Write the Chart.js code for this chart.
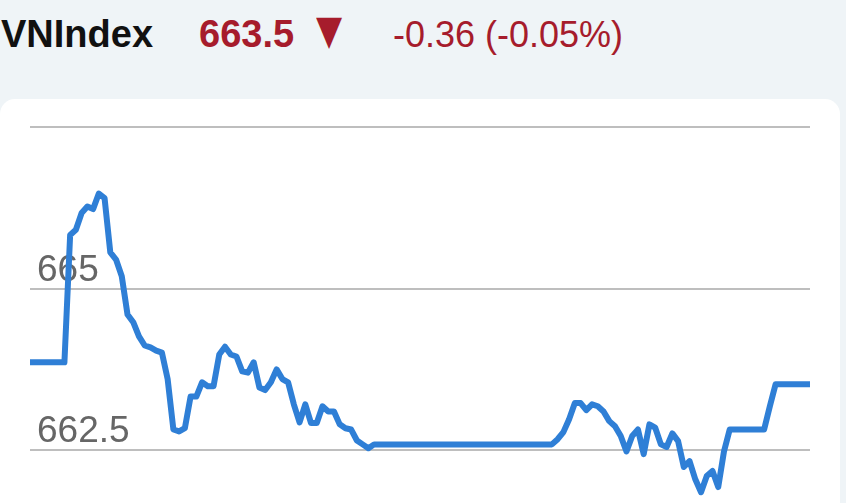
<!DOCTYPE html>
<html>
<head>
<meta charset="utf-8">
<script src="https://cdn.jsdelivr.net/npm/chart.js@4"></script>
<style>
  html, body { margin: 0; padding: 0; }
  body { width: 846px; height: 503px; overflow: hidden; background: #eff4f7; position: relative; font-family: "Liberation Sans", Arial, sans-serif; }
  .hd { position: absolute; white-space: nowrap; line-height: normal; }
  #name { left: 1px; top: 13px; font-size: 38px; font-weight: bold; color: #111; }
  #last { left: 199px; top: 13px; font-size: 38px; font-weight: bold; color: #a61c2c; }
  #arrow { left: 316px; top: 12px; font-size: 34px; color: #a61c2c; font-family: "DejaVu Sans", sans-serif; transform: scaleY(1.2); transform-origin: 50% 80%; }
  #chg { left: 393px; top: 14px; font-size: 36px; color: #a61c2c; }
  #card { position: absolute; left: 0; top: 99px; width: 840px; height: 520px; background: #fff; border-radius: 15px; }
  #wrap { position: absolute; left: 0; top: 0; width: 846px; height: 641px; }
</style>
</head>
<body>
<div id="card"></div>
<div class="hd" id="name">VNIndex</div>
<div class="hd" id="last">663.5</div>
<div class="hd" id="arrow">▼</div>
<div class="hd" id="chg">-0.36 (-0.05%)</div>
<div id="wrap"><canvas id="lineChart"></canvas></div>
<script>
'use strict';
// giá trị chỉ số theo từng điểm
const indexValues = [
    663.86, 663.86, 663.86, 663.86, 663.86, 663.86, 663.86,
    665.83, 665.91, 666.17, 666.27, 666.23, 666.47, 666.40, 665.56, 665.45, 665.19,
    664.60, 664.48, 664.26, 664.12, 664.09, 664.04, 664.01, 663.60, 662.82, 662.79,
    662.84, 663.33, 663.33, 663.55, 663.49, 663.49, 663.98, 664.10, 663.98, 663.95,
    663.72, 663.70, 663.86, 663.47, 663.43, 663.55, 663.75, 663.60, 663.55, 663.21,
    662.93, 663.21, 662.92, 662.92, 663.18, 663.10, 663.10, 662.90, 662.84, 662.82,
    662.65, 662.59, 662.53,
    662.59, 662.59, 662.59, 662.59, 662.59, 662.59, 662.59, 662.59,
    662.59, 662.59, 662.59, 662.59, 662.59, 662.59, 662.59, 662.59,
    662.59, 662.59, 662.59, 662.59, 662.59, 662.59, 662.59, 662.59,
    662.59, 662.59, 662.59, 662.59, 662.59, 662.59, 662.59, 662.59,
    662.67, 662.78, 662.98, 663.23, 663.23, 663.12, 663.21, 663.18, 663.10, 662.95,
    662.87, 662.72, 662.48, 662.72, 662.82, 662.44, 662.90, 662.85, 662.59, 662.55,
    662.76, 662.64, 662.24, 662.33, 662.05, 661.85, 662.10, 662.18, 661.93, 662.48,
    662.82, 662.82, 662.82, 662.82, 662.82, 662.82, 662.82,
    663.18,
    663.52, 663.52, 663.52, 663.52, 663.52, 663.52, 663.52
];
const pointLabels = indexValues.map((v, i) => String(i));
const yTickLabels = [662.5, 665];
const yMin = 660;
const yMax = 667.5;

function renderChart() {
    const ctx = document.getElementById('lineChart').getContext('2d');
    new Chart(ctx, {
        type: 'line',
        data: {
            labels: pointLabels,
            datasets: [{
                data: indexValues,
                borderColor: '#2f7fd6',
                borderWidth: 6,
                pointRadius: 0,
                tension: 0,
                borderJoinStyle: 'round',
                borderCapStyle: 'butt',
                fill: false
            }]
        },
        options: {
            responsive: true,
            maintainAspectRatio: false,
            animation: false,
            layout: { padding: { left: 16, right: 36, top: 127, bottom: 7 } },
            plugins: { legend: { display: false }, tooltip: { enabled: false } },
            scales: {
                x: { display: false, offset: false },
                y: {
                    min: yMin,
                    max: yMax,
                    border: { display: false },
                    grid: { color: '#bebebe', lineWidth: 2, drawTicks: false },
                    ticks: {
                        stepSize: 2.5,
                        mirror: true,
                        padding: 7,
                        labelOffset: -18,
                        color: '#666',
                        font: { family: '"Liberation Sans", Arial, sans-serif', size: 37 },
                        callback: v => yTickLabels.includes(v) ? String(v) : ''
                    }
                }
            }
        }
    });
}

renderChart();
</script>
</body>
</html>
